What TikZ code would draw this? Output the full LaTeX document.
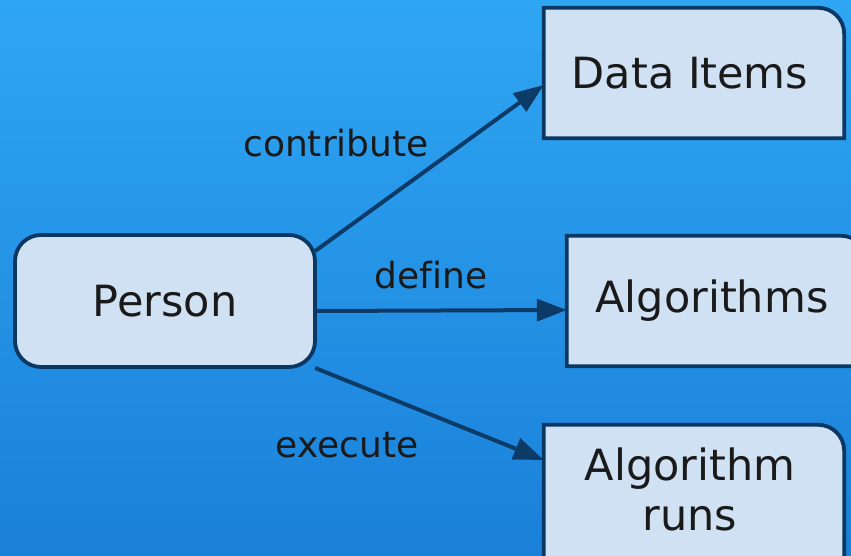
\documentclass[tikz,border=0pt]{standalone}
\usepackage{fontspec}
\setmainfont{DejaVu Sans}[Ligatures=NoCommon]
\usetikzlibrary{arrows.meta}
\definecolor{bgtop}{HTML}{2FA6F3}
\definecolor{bgbot}{HTML}{1A80D9}
\definecolor{boxfill}{HTML}{CFE1F2}
\definecolor{boxline}{HTML}{0B3763}
\definecolor{edgecol}{HTML}{0D3B68}
\definecolor{txt}{HTML}{1A1A1A}
\tikzset{
  boxnode/.style={draw=none, minimum width=300pt, minimum height=130pt, inner sep=0pt,
    text=txt, font=\fontsize{43}{50}\selectfont, align=center},
  boxpath/.style={fill=boxfill, draw=boxline, line width=3.8pt},
  conn/.style={draw=edgecol, line width=4pt, -{Triangle[length=30pt,width=22pt]}},
  lbl/.style={text=txt, font=\fontsize{36}{40}\selectfont, inner sep=0pt}
}
\begin{document}
\begin{tikzpicture}[x=1pt,y=1pt]
\useasboundingbox (0,0) rectangle (851,555);
\clip (0,0) rectangle (851,555);
\shade[top color=bgtop, bottom color=bgbot] (0,0) rectangle (851,555);
% Person
\filldraw[boxpath, rounded corners=26pt] (15,188) rectangle (315,320);
\node[boxnode] (person) at (165,254) {Person};
% Data Items
\node[boxnode] (data) at (694,482) {};
\filldraw[boxpath] (data.south west) -- (data.north west) -- ([xshift=-26pt]data.north east)
  arc[start angle=90, end angle=0, radius=26pt] -- (data.south east) -- cycle;
\node[boxnode] at (690,482) {Data Items};
% Algorithms
\node[boxnode] (algo) at (717,254) {};
\filldraw[boxpath] (algo.south west) -- (algo.north west) -- ([xshift=-26pt]algo.north east)
  arc[start angle=90, end angle=0, radius=26pt] -- (algo.south east) -- cycle;
\node[boxnode] at (712,254) {Algorithms};
% Algorithm runs
\node[boxnode, minimum height=150pt] (runs) at (694,55) {};
\filldraw[boxpath] (runs.south west) -- (runs.north west) -- ([xshift=-26pt]runs.north east)
  arc[start angle=90, end angle=0, radius=26pt] -- (runs.south east) -- cycle;
\node[boxnode] at (690,66) {Algorithm\\runs};
% connectors
\draw[conn] ([yshift=50pt]person.east) -- ([yshift=-12pt]data.west);
\draw[conn] ([yshift=-10pt]person.east) -- ([yshift=-9pt]algo.west);
\draw[conn] ([yshift=-67pt]person.east) -- ([yshift=40pt]runs.west);
% labels
\node[lbl] (lc) at (336,412) {contribute};
\node[lbl] (ld) at (431,280) {define};
\node[lbl] (le) at (347,110) {execute};
\end{tikzpicture}
\end{document}
